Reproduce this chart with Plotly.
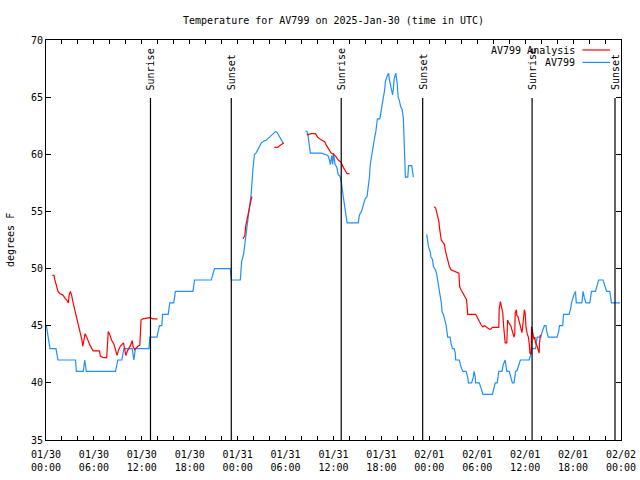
import pandas as pd
import plotly.graph_objects as go

# ---------------- data ----------------
start_time = "2025-01-30 00:00"
end_time = "2025-02-02 00:00"

# observed AV799 temperatures: hours since start, degrees F (None = gap)
obs_hours = [
    0.05, 0.5, 1.25, 1.5, 3.7, 3.8, 4.67, 4.85, 5.05, 8.7, 9.0, 9.5, 9.75, 10.8, 11.0, 11.2,
    12.9, 13.0, 13.9, 14.2, 14.5, 14.6, 15.3, 15.5, 16.0, 16.2, 18.4, 18.6, 20.7, 21.1, 23.08,
    23.2, 24.33, 24.5, 24.75, 24.9, 25.08, 25.3, 25.5, 25.7, 25.9, 26.1, 26.3, 26.5, 26.75,
    26.96, 27.4, 27.6, 28.0, 28.4, 28.75, 28.96, 29.25, 29.46, 29.67,
    None,
    32.5, 32.67, 32.8, 33.0, 33.1, 34.5, 35.0, 35.3, 35.5, 35.6, 35.8, 35.9, 36.0, 36.1, 36.2,
    36.4, 36.6, 36.8, 37.0, 37.2, 37.4, 37.6, 37.7, 39.1, 39.25, 39.5, 39.7, 39.96, 40.2, 40.4,
    40.5, 40.6, 40.7, 40.9, 41.1, 41.3, 41.45, 41.5, 41.8, 41.96, 42.1, 42.25, 42.4, 42.5, 42.7,
    42.9, 43.0, 43.1, 43.25, 43.4, 43.5, 43.6, 43.8, 43.96, 44.1, 44.25, 44.4, 44.6, 44.75,
    44.9, 45.0, 45.3, 45.4, 45.8, 46.0,
    None,
    47.67, 47.8, 47.9, 48.1, 48.2, 48.4, 48.5, 48.75, 48.9, 49.04, 49.2, 49.3, 49.5, 49.6,
    49.75, 49.9, 50.1, 50.2, 50.3, 50.6, 50.7, 50.9, 51.1, 51.25, 51.3, 51.75, 51.96, 52.2,
    52.6, 52.8, 52.9, 53.3, 53.5, 53.6, 53.75, 53.8, 54.25, 54.5, 54.7, 55.9, 56.1, 56.25,
    56.5, 56.7, 57.1, 57.25, 57.5, 57.6, 57.7, 58.0, 58.2, 58.4, 58.6, 58.8, 59.0, 59.25,
    59.4, 60.5, 60.7, 60.8, 61.3, 61.5, 61.96, 62.1, 62.25, 62.4, 62.6, 62.7, 62.9, 64.0,
    64.2, 64.3, 64.7, 64.8, 65.5, 65.7, 65.8, 65.9, 66.1, 66.3, 66.4, 67.1, 67.25, 67.4,
    67.6, 68.1, 68.3, 68.8, 69.0, 69.2, 69.75, 69.96, 70.2, 70.6, 70.8, 71.9,
]
obs_temp = [
    45, 43, 43, 42, 42, 41, 41, 42, 41, 41, 42, 42, 43, 43, 42, 43,
    43, 44, 44, 45, 45, 46, 46, 47, 47, 48, 48, 49, 49, 50, 50,
    49, 49, 50.6, 51.3, 52.1, 53.1, 54.2, 55.4, 56.6, 58.6, 60.0, 60.1, 60.4, 60.7,
    61.0, 61.2, 61.25, 61.5, 61.8, 62.0, 61.9, 61.5, 61.25, 61.0,
    None,
    62.0, 62.0, 61.7, 60.7, 60.1, 60.1, 60.0, 59.9, 59.5, 59.1, 59.9, 59.1, 60.1, 59.5, 59.1,
    58.9, 58.2, 58.1, 57.5, 56.4, 55.4, 54.4, 54.0, 54.0, 54.7, 55.0, 55.4, 56.1, 56.3, 57.2,
    58.0, 59.1, 59.6, 60.5, 61.25, 62.0, 62.6, 63.1, 63.1, 63.9, 64.5, 65.0, 65.6, 66.35, 66.8,
    67.1, 66.5, 66.1, 65.6, 65.2, 65.8, 66.6, 67.1, 66.3, 65.0, 64.7, 64.2, 63.9, 63.1,
    60.5, 58.0, 58.0, 59.0, 59.0, 58.0,
    None,
    53.0, 52.35, 51.9, 51.5, 51.0, 50.8, 50.2, 49.9, 49.6, 49.0, 48.4, 47.7, 47.0, 46.2,
    46.0, 45.6, 45.06, 44.5, 44.0, 44.0, 43.5, 43.0, 43.0, 42.6, 42.0, 42.0, 41.4, 41.0,
    41.0, 40.5, 40.0, 40.0, 40.5, 41.0, 40.5, 40.0, 40.0, 39.5, 39.0, 39.0, 39.5, 40.0,
    40.0, 41.0, 41.0, 41.6, 42.0, 41.6, 41.0, 41.0, 40.5, 40.0, 40.0, 41.0, 41.1, 41.6,
    42.0, 42.0, 42.5, 43.0, 43.0, 44.0, 44.0, 44.4, 44.7, 45.0, 45.0, 44.5, 44.0, 44.0,
    44.5, 45.0, 45.0, 46.0, 46.0, 46.5, 47.0, 47.3, 47.7, 48.0, 47.0, 47.0, 48.0, 47.5,
    47.0, 47.0, 48.0, 48.0, 48.6, 49.0, 49.0, 48.5, 48.0, 48.0, 47.0, 47.0,
]

# AV799 analysis temperatures: hours since start, degrees F (None = gap)
ana_hours = [
    0.8, 1.0, 1.1, 1.3, 1.5, 1.75, 2.1, 2.4, 2.6, 2.8, 2.9, 3.05, 3.2, 3.4, 3.6, 3.8, 4.0,
    4.25, 4.5, 4.6, 4.75, 4.9, 5.1, 5.3, 5.5, 5.9, 6.3, 6.7, 6.8, 7.2, 7.6, 7.7, 7.8, 8.0,
    8.2, 8.5, 8.75, 8.9, 9.1, 9.3, 9.7, 9.9, 10.0, 10.2, 10.4, 10.6, 10.8, 10.9, 11.1, 11.3,
    11.5, 11.75, 11.9, 12.1, 12.6, 13.0, 13.4, 13.96,
    None,
    24.67, 24.9, 25.0, 25.2, 25.4, 25.5, 25.7, 25.8,
    None,
    28.6, 29.0, 29.25, 29.6, 29.8,
    None,
    32.67, 33.2, 33.75, 34.0, 34.5, 34.9, 35.1, 35.4, 35.7, 36.0, 36.3, 36.6, 36.96, 37.2,
    37.5, 37.7, 38.0,
    None,
    48.6, 48.8, 48.96, 49.2, 49.3, 49.5, 49.7, 49.9, 50.0, 50.2, 50.4, 50.5, 50.7, 51.1,
    51.5, 51.7, 51.75, 51.8, 52.0, 52.25, 52.5, 52.65, 52.72, 52.8, 53.8, 54.0, 54.25, 54.5,
    54.7, 54.9, 55.1, 55.3, 55.5, 55.7, 55.9, 56.7, 56.75, 56.9, 57.0, 57.2, 57.3, 57.4,
    57.5, 57.7, 57.8, 58.0, 58.2, 58.4, 58.6, 58.7, 58.75, 58.9, 58.96, 59.1, 59.25, 59.5,
    59.6, 59.7, 59.8, 59.9, 60.0, 60.1, 60.25, 60.4, 60.5, 60.6, 60.75, 60.8, 60.9, 61.0,
    61.1, 61.2, 61.3, 61.5, 61.6, 61.75, 61.8, 61.9,
]
ana_temp = [
    49.4, 49.4, 49.05, 48.4, 48.0, 47.8, 47.7, 47.4, 47.25, 47.0, 47.7, 48.0, 47.7, 47.0,
    46.4, 45.8, 45.2, 44.6, 43.75, 43.2, 43.75, 44.3, 44.0, 43.6, 43.3, 42.8, 42.8, 42.8,
    42.35, 42.2, 42.2, 43.0, 44.5, 44.2, 43.75, 43.4, 42.7, 42.4, 42.9, 43.2, 43.5, 42.9,
    42.4, 42.8, 43.0, 43.3, 43.7, 43.2, 42.9, 43.1, 43.2, 43.3, 45.5, 45.6, 45.65, 45.7,
    45.6, 45.6,
    None,
    52.6, 52.9, 53.7, 54.4, 55.1, 55.7, 56.1, 56.3,
    None,
    60.6, 60.6, 60.75, 60.9, 61.0,
    None,
    61.7, 61.8, 61.8, 61.5, 61.25, 61.1, 60.8, 60.4, 60.1, 60.0, 59.8, 59.5, 59.3, 58.9,
    58.6, 58.3, 58.3,
    None,
    55.4, 55.3, 54.8, 54.1, 53.4, 52.5, 52.3, 52.1, 51.6, 51.0, 50.6, 50.2, 49.9, 49.8,
    49.7, 49.6, 49.0, 48.4, 48.1, 47.8, 47.5, 47.3, 46.8, 46.0, 46.0, 45.7, 45.35, 45.06,
    44.9, 45.0, 44.9, 44.8, 44.7, 44.7, 44.85, 44.85, 46.5, 47.1, 46.8, 46.1, 45.0, 44.0,
    43.5, 43.5, 45.5, 45.2, 45.0, 44.5, 44.0, 44.3, 46.1, 46.4, 45.9, 45.8, 45.35, 44.7,
    44.4, 45.0, 46.0, 46.4, 46.1, 44.9, 44.3, 44.0, 43.5, 42.6, 42.5, 44.9, 44.6, 44.0,
    43.8, 44.0, 43.5, 43.2, 42.9, 42.6, 43.5, 44.2,
]

# sunrise / sunset events
event_names = ["Sunrise", "Sunset", "Sunrise", "Sunset", "Sunrise", "Sunset"]
event_times = ["2025-01-30 13:05", "2025-01-30 23:12", "2025-01-31 12:58",
               "2025-01-31 23:10", "2025-02-01 12:52", "2025-02-01 23:15"]

# x tick labels (every 6 hours)
tick_times = ["2025-01-30 00:00", "2025-01-30 06:00", "2025-01-30 12:00", "2025-01-30 18:00",
              "2025-01-31 00:00", "2025-01-31 06:00", "2025-01-31 12:00", "2025-01-31 18:00",
              "2025-02-01 00:00", "2025-02-01 06:00", "2025-02-01 12:00", "2025-02-01 18:00",
              "2025-02-02 00:00"]
tick_labels = ["01/30<br>00:00", "01/30<br>06:00", "01/30<br>12:00", "01/30<br>18:00",
               "01/31<br>00:00", "01/31<br>06:00", "01/31<br>12:00", "01/31<br>18:00",
               "02/01<br>00:00", "02/01<br>06:00", "02/01<br>12:00", "02/01<br>18:00",
               "02/02<br>00:00"]
y_ticks = [35, 40, 45, 50, 55, 60, 65, 70]

assert len(obs_hours) == len(obs_temp)
assert len(ana_hours) == len(ana_temp)

base = pd.Timestamp(start_time)


def to_times(hours):
    return [None if h is None else base + pd.Timedelta(hours=h) for h in hours]


FONT = "DejaVu Sans Mono"
RED = "#ff0000"
BLUE = "#1e90ff"
LW = 1.2

fig = go.Figure()
fig.add_trace(go.Scatter(x=to_times(obs_hours), y=obs_temp, mode="lines", name="AV799",
                         line=dict(color=BLUE, width=LW), connectgaps=False,
                         showlegend=False))
fig.add_trace(go.Scatter(x=to_times(ana_hours), y=ana_temp, mode="lines",
                         name="AV799 Analysis", line=dict(color=RED, width=LW),
                         connectgaps=False, showlegend=False))

# sunrise / sunset markers
for name, t in zip(event_names, event_times):
    fig.add_shape(type="line", xref="x", yref="paper", x0=t, x1=t, y0=0, y1=0.855,
                  line=dict(color="black", width=1.2))
    fig.add_annotation(x=t, y=0.87, xref="x", yref="paper", text=name, textangle=-90,
                       showarrow=False, xanchor="center", yanchor="bottom",
                       font=dict(family=FONT, size=10, color="black"))

# legend in gnuplot style (text left, sample right)
legend_rows = [("AV799 Analysis", RED, 0.975), ("AV799", BLUE, 0.944)]
for label, color, yy in legend_rows:
    fig.add_annotation(x=0.923, y=yy, xref="paper", yref="paper", text=label,
                       showarrow=False, xanchor="right", yanchor="middle",
                       font=dict(family=FONT, size=10, color="black"))
    fig.add_shape(type="line", xref="paper", yref="paper", x0=0.933, x1=0.981,
                  y0=yy, y1=yy, line=dict(color=color, width=LW))

# y-axis title
fig.add_annotation(x=-0.0626, y=0.5, xref="paper", yref="paper", text="degrees F",
                   textangle=-90, showarrow=False, xanchor="center", yanchor="middle",
                   font=dict(family=FONT, size=10, color="black"))

fig.update_layout(
    width=640, height=480, autosize=False,
    margin=dict(l=46, r=19, t=40, b=40, autoexpand=False),
    paper_bgcolor="white", plot_bgcolor="white",
    font=dict(family=FONT, size=10, color="black"),
    title=dict(text="Temperature for AV799 on 2025-Jan-30 (time in UTC)",
               x=0.5, xref="paper", xanchor="center",
               y=1 - 20 / 480, yref="container", yanchor="middle",
               font=dict(family=FONT, size=10, color="black")),
    showlegend=False,
)
fig.update_xaxes(
    type="date", range=[start_time, end_time], automargin=False,
    tickmode="array", tickvals=tick_times, ticktext=tick_labels,
    ticks="inside", ticklen=4, tickcolor="black", tickwidth=1, ticklabelstandoff=5,
    minor=dict(ticks="inside", dtick=2 * 3600 * 1000, tick0=start_time, ticklen=4,
               tickcolor="black", tickwidth=1, showgrid=False),
    showline=True, linecolor="black", linewidth=1, mirror="allticks",
    showgrid=False, zeroline=False,
    tickfont=dict(family=FONT, size=10, color="black"),
)
fig.update_yaxes(
    range=[35, 70], tickmode="array", tickvals=y_ticks, automargin=False,
    ticks="inside", ticklen=5, tickcolor="black", tickwidth=1,
    showline=True, linecolor="black", linewidth=1, mirror="allticks",
    showgrid=False, zeroline=False,
    tickfont=dict(family=FONT, size=10, color="black"),
)

fig.write_html("out.html",
               config={"displayModeBar": False, "responsive": False},
               post_script="document.body.style.margin='0px';"
                           "document.body.style.padding='0px';")
